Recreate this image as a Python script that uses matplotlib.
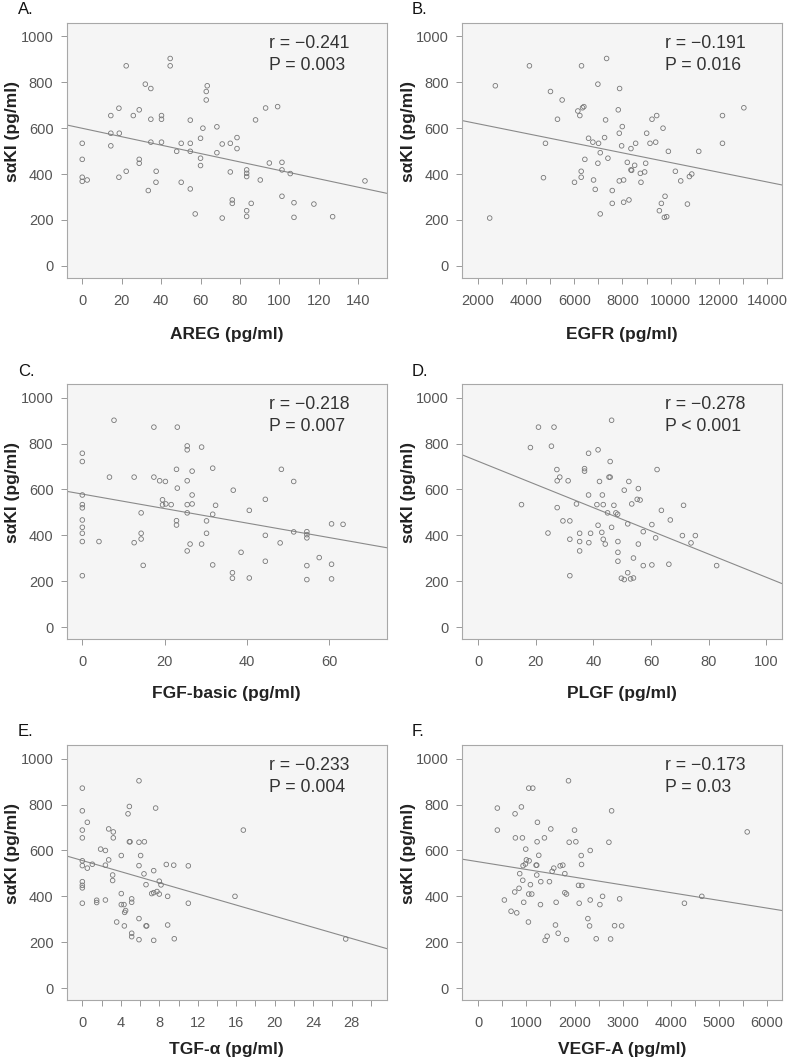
import numpy as np
import matplotlib
matplotlib.use('Agg')
from matplotlib import pyplot as plt
from matplotlib.ticker import MultipleLocator

plt.rcParams['font.family'] = ['Liberation Sans', 'DejaVu Sans']

# values
areg_x = [0, 0, 0, 0, 2.5, 14.5, 14.5, 14.5, 18.8, 18.6, 18.6, 22.3, 22.3, 25.9, 28.9, 28.9, 28.9,
          32, 33.5, 34.8, 34.8, 34.8, 37.4, 37.5, 40.2, 40.2, 40.2, 44.6, 44.6, 47.9, 50.2, 50.2,
          54.8, 54.8, 54.8, 54.8, 57.3, 60, 60, 60, 61.2, 62.9, 62.9, 63.4, 68.3, 68.3, 71, 71,
          75.1, 75.1, 76.1, 76.1, 78.5, 78.5, 83.4, 83.4, 83.4, 83.4, 83.4, 85.7, 87.9, 90.3, 93,
          94.9, 99.1, 101.3, 101.3, 101.3, 105.5, 107.4, 107.4, 117.5, 127, 143.4]
areg_y = [534, 464, 386, 368, 374, 578, 655, 523, 578, 687, 386, 872, 412, 655, 680, 464, 447,
          792, 328, 773, 639, 539, 364, 412, 655, 639, 539, 904, 872, 499, 534, 364,
          635, 534, 499, 335, 226, 556, 469, 437, 600, 723, 760, 785, 606, 493, 531, 208,
          534, 409, 287, 272, 559, 511, 418, 403, 389, 240, 215, 272, 636, 374, 688,
          448, 694, 451, 418, 303, 402, 275, 211, 269, 214, 370]

egfr_x = [2486, 2721, 4137, 4720, 4803, 5011, 5302, 5496, 6009, 6148, 6231, 6300, 6287, 6287,
          6342, 6398, 6439, 6592, 6772, 6800, 6870, 6980, 6980, 7008, 7078, 7078, 7258, 7300,
          7342, 7397, 7577, 7577, 7827, 7869, 7869, 7882, 7966, 7994, 8049, 8049, 8202, 8271,
          8354, 8354, 8382, 8507, 8548, 8743, 8770, 8923, 8965, 9006, 9145, 9228, 9381, 9423,
          9534, 9617, 9686, 9741, 9769, 9839, 9908, 10199, 10421, 10699, 10782, 10879, 11170,
          12155, 12155, 13043]
egfr_y = [208, 785, 872, 384, 534, 760, 639, 723, 364, 675, 655, 872, 386, 412,
          689, 694, 464, 556, 539, 374, 333, 792, 447, 534, 493, 226, 559, 636,
          904, 469, 328, 272, 680, 578, 370, 773, 523, 607, 374, 277, 451, 287,
          511, 418, 416, 438, 534, 403, 364, 409, 447, 578, 534, 639, 539, 655,
          240, 272, 600, 211, 303, 214, 499, 412, 370, 269, 389, 400, 499,
          534, 655, 689]

fgf_x = [0, 0, 0, 0, 0, 0, 0, 0, 0, 0, 4.05, 6.6, 7.7, 12.6, 12.6, 14.3, 14.3, 14.3, 14.8,
         17.4, 17.4, 18.8, 19.5, 19.5, 20.2, 20.3, 21.6, 22.9, 22.9, 22.9, 23.1, 23.1, 25.5,
         25.5, 25.5, 25.5, 25.5, 25.5, 26.2, 26.7, 26.7, 26.7, 29, 29, 30.2, 30.2, 31.7, 31.7,
         31.7, 32.4, 36.7, 36.5, 36.5, 38.6, 40.6, 40.6, 44.5, 44.5, 44.5, 48.1, 48.4, 51.4,
         51.4, 54.6, 54.6, 54.6, 54.6, 54.6, 57.6, 60.6, 60.6, 60.6, 63.4]
fgf_y = [758, 722, 576, 534, 520, 467, 435, 409, 373, 224, 373, 654, 902, 654, 368, 498, 409,
         384, 269, 654, 872, 638, 555, 533, 635, 537, 534, 688, 464, 445, 872, 606, 790,
         773, 638, 534, 498, 332, 362, 680, 576, 537, 785, 362, 463, 409, 693, 492,
         271, 531, 597, 237, 213, 326, 509, 214, 557, 400, 287, 367, 688, 635,
         415, 416, 403, 389, 268, 207, 303, 450, 274, 210, 448]

plgf_x = [15, 18.1, 20.9, 24.2, 25.4, 26.3, 27.3, 27.4, 27.4, 28.3, 29.4, 31.2, 31.8, 31.8, 31.8,
          34.1, 35.2, 35.2, 35.2, 36.9, 36.9, 38.3, 38.3, 38.4, 39, 41.2, 41.6, 41.6, 42.1, 42.9,
          43.1, 43.4, 43.4, 44.1, 44.9, 45.4, 45.8, 45.8, 46.3, 46.3, 47.1, 47.8, 48.4, 48.5,
          48.5, 48.5, 49.7, 50.7, 50.7, 51.9, 51.9, 52.3, 52.9, 53.3, 53.9, 53.9, 55.2, 55.6,
          55.6, 56.2, 57.3, 57.3, 60.3, 60.3, 61.6, 62.1, 63.6, 66.2, 66.7, 70.9, 71.3, 73.9,
          75.4, 82.8]
plgf_y = [534, 783, 872, 410, 789, 872, 687, 638, 521, 654, 463, 638, 463, 383, 224,
          537, 409, 373, 332, 691, 680, 758, 576, 368, 409, 534, 773, 444, 635, 413,
          576, 534, 383, 362, 498, 654, 654, 722, 435, 902, 531, 498, 492, 373,
          326, 287, 213, 597, 207, 450, 237, 635, 210, 537, 301, 214, 557, 604,
          362, 554, 416, 268, 447, 271, 389, 687, 509, 274, 467, 399, 531, 367,
          399, 268]

tgf_x = [0, 0, 0, 0, 0, 0, 0, 0, 0, 0, 0.52, 0.52, 1.04, 1.49, 1.49, 1.9, 2.4, 2.4, 2.4, 2.74,
         2.74, 3.15, 3.15, 3.22, 3.22, 3.57, 4.05, 4.05, 4.05, 4.33, 4.37, 4.4, 4.5, 4.75, 4.89,
         4.89, 4.96, 5.13, 5.13, 5.13, 5.13, 5.89, 5.89, 5.89, 5.89, 5.89, 6.06, 6.41, 6.45,
         6.62, 6.62, 6.69, 7.21, 7.42, 7.42, 7.42, 7.62, 7.76, 8.0, 8.0, 8.18, 8.73, 8.87, 8.87,
         9.5, 9.56, 11.02, 11.02, 15.87, 16.74, 27.38]
tgf_y = [872, 773, 689, 655, 555, 534, 464, 448, 437, 370, 723, 523, 540, 383, 373, 606, 600,
         536, 384, 694, 559, 493, 469, 681, 655, 288, 578, 412, 364, 364, 271, 330, 338, 760,
         792, 638, 638, 389, 374, 239, 224, 904, 636, 534, 303, 211, 578, 498, 638,
         451, 271, 271, 412, 512, 416, 208, 785, 421, 466, 410, 450, 539, 400, 275,
         536, 215, 533, 370, 400, 689, 214]

vegf_x = [396, 396, 542, 681, 764, 771, 799, 757, 847, 861, 896, 917, 924, 931, 944, 979, 986,
          1000, 1042, 1049, 1049, 1056, 1083, 1111, 1132, 1201, 1215, 1215, 1222, 1229, 1257,
          1292, 1299, 1375, 1389, 1431, 1479, 1507, 1535, 1569, 1604, 1618, 1660, 1701, 1757,
          1799, 1799, 1833, 1833, 1875, 1889, 2000, 2028, 2083, 2097, 2139, 2146, 2153, 2278,
          2313, 2326, 2326, 2451, 2528, 2583, 2715, 2750, 2771, 2833, 2938, 2979, 4285, 4646,
          5590]
vegf_y = [785, 689, 384, 335, 760, 655, 328, 419, 435, 499, 790, 655, 470, 534, 374, 541, 606,
          559, 288, 872, 410, 555, 451, 410, 872, 536, 493, 536, 638, 723, 579,
          364, 464, 655, 208, 226, 464, 694, 509, 523, 275, 374, 239, 533, 536,
          499, 416, 410, 211, 904, 636, 689, 638, 448, 370, 578, 539, 447, 303,
          271, 600, 384, 215, 364, 400, 636, 214, 773, 272, 389, 271, 370, 400,
          681]

# regression lines as drawn in the reference (intercept, slope)
fit_intercept = [599.5, 661.5, 580, 722.8, 556.2, 550.8]
fit_slope = [-1.836, -0.02114, -3.161, -5.055, -12.14, -0.03367]

r_text = ['r = \u22120.241', 'r = \u22120.191', 'r = \u22120.218',
          'r = \u22120.278', 'r = \u22120.233', 'r = \u22120.173']
p_text = ['P = 0.003', 'P = 0.016', 'P = 0.007', 'P < 0.001', 'P = 0.004', 'P = 0.03']
x_labels = ['AREG (pg/ml)', 'EGFR (pg/ml)', 'FGF-basic (pg/ml)',
            'PLGF (pg/ml)', 'TGF-\u03b1 (pg/ml)', 'VEGF-A (pg/ml)']
panel_tags = ['A.', 'B.', 'C.', 'D.', 'E.', 'F.']

xs = [areg_x, egfr_x, fgf_x, plgf_x, tgf_x, vegf_x]
ys = [areg_y, egfr_y, fgf_y, plgf_y, tgf_y, vegf_y]
x_lims = [(-7.9, 154.4), (1348, 14639), (-3.81, 74.0), (-5.57, 105.6), (-1.63, 31.64), (-333, 6319)]
x_major = [20, 2000, 20, 20, 4, 1000]
x_minor = [20, 1000, 20, 20, 2, 500]

# axes boxes in figure fractions
lefts = [0.0847, 0.5874]
bottoms = [0.7388, 0.3989, 0.0593]
w, h = [0.4066, 0.2394]
xlabel_pad = [14, 12, 9]

fig = plt.figure(figsize=(7.87, 10.63), dpi=100)

spine_c = '#a8a8a8'
tick_c = '#555555'

for i in range(6):
    row, col = divmod(i, 2)
    ax = fig.add_axes([lefts[col], bottoms[row], w, h])
    ax.set_facecolor('#f5f5f5')
    ax.scatter(xs[i], ys[i], s=11, facecolors='none', edgecolors='#777777', linewidths=0.6, zorder=3)

    x0, x1 = x_lims[i]
    lx = np.array([x0, x1])
    ax.plot(lx, fit_intercept[i] + fit_slope[i] * lx, color='#8a8a8a', linewidth=0.8, zorder=2)

    ax.set_xlim(x0, x1)
    ax.set_ylim(-52, 1058)
    ax.yaxis.set_major_locator(MultipleLocator(200))
    ax.xaxis.set_major_locator(MultipleLocator(x_major[i]))
    ax.xaxis.set_minor_locator(MultipleLocator(x_minor[i]))
    ax.tick_params(which='both', direction='out', length=4.5, width=0.7, color='#999999',
                   labelcolor=tick_c, labelsize=10.5, pad=5)
    ax.tick_params(axis='x', which='major', pad=7)
    for sp in ax.spines.values():
        sp.set_color(spine_c)
        sp.set_linewidth(0.8)

    ax.set_xlabel(x_labels[i], fontsize=12.5, fontweight='bold', color='#222222',
                  labelpad=xlabel_pad[row])
    ax.set_ylabel('s\u03b1KI (pg/ml)', fontsize=12.5, fontweight='bold', color='#222222')
    ax.yaxis.set_label_coords(-0.146, 0.574)

    # r and P annotation, upper right
    ax.text(0.632, 0.902, r_text[i], transform=ax.transAxes, fontsize=12.7, color='#333333',
            va='baseline')
    ax.text(0.632, 0.816, p_text[i], transform=ax.transAxes, fontsize=12.7, color='#333333',
            va='baseline')

    tag_x = [18 / 787, 412 / 787][col]
    tag_y = [1 - 10 / 1063, 1 - 371 / 1063, 1 - 732 / 1063][row]
    fig.text(tag_x, tag_y, panel_tags[i], fontsize=12, color='#111111', va='center')

fig.savefig('out.png', dpi=100)
